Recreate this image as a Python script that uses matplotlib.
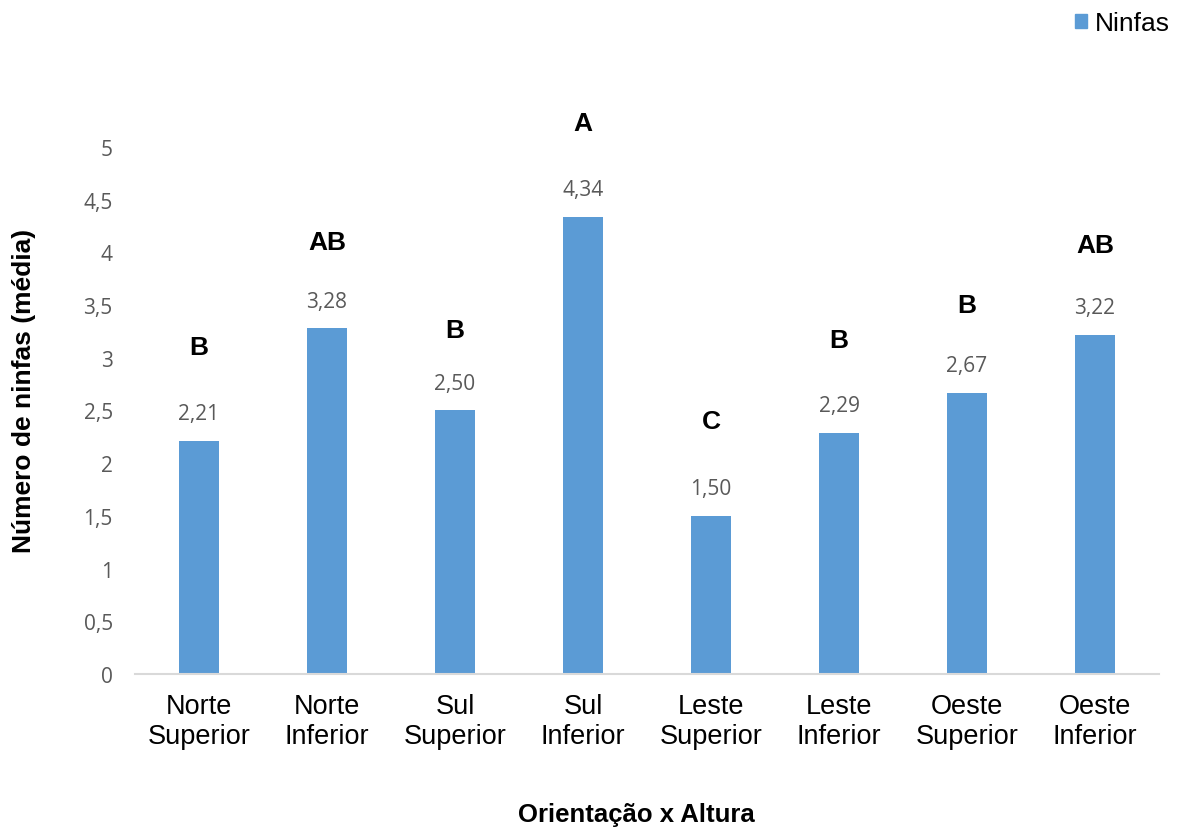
import matplotlib
matplotlib.use("Agg")
import matplotlib.pyplot as plt
from matplotlib.patches import Patch
import numpy as np

categorias = ["Norte\nSuperior", "Norte\nInferior", "Sul\nSuperior", "Sul\nInferior",
              "Leste\nSuperior", "Leste\nInferior", "Oeste\nSuperior", "Oeste\nInferior"]
medias = [2.21, 3.28, 2.50, 4.34, 1.50, 2.29, 2.67, 3.22]
letras = ["B", "AB", "B", "A", "C", "B", "B", "AB"]
yticks = [0, 0.5, 1, 1.5, 2, 2.5, 3, 3.5, 4, 4.5, 5]

# distância (pt) entre o topo da barra e a letra do teste
letra_offset = [68, 62, 58, 67, 68, 67, 63, 64.5]

AZUL = "#5b9bd5"
CINZA = "#595959"

fig = plt.figure(figsize=(11.81, 8.28), dpi=100)
ax = fig.add_axes([0.1143, 0.1848, 0.8671, 0.6365])

x = np.arange(len(categorias))
ax.bar(x, medias, width=0.31, color=AZUL, zorder=2)

ax.set_xlim(-0.5, len(categorias) - 0.5)
ax.set_ylim(0, 5)
ax.set_yticks(yticks)
ax.set_yticklabels([f"{v:g}".replace(".", ",") for v in yticks],
                   fontfamily="Open Sans", fontsize=15, color=CINZA)
ax.set_xticks(x)
ax.set_xticklabels(categorias, fontfamily="Liberation Sans", fontsize=19.5,
                   color="black", linespacing=1.2)
ax.tick_params(axis="y", length=0, pad=16)
ax.tick_params(axis="x", length=0, pad=14)

for s in ["top", "right", "left"]:
    ax.spines[s].set_visible(False)
ax.spines["bottom"].set_color("#d9d9d9")
ax.spines["bottom"].set_linewidth(1.5)

for xi, v, letra, off in zip(x, medias, letras, letra_offset):
    ax.annotate(f"{v:.2f}".replace(".", ","), (xi, v), xytext=(0, 19.5),
                textcoords="offset points", ha="center", va="center",
                fontfamily="Open Sans", fontsize=15, color=CINZA)
    ax.annotate(letra, (xi, v), xytext=(0, off), textcoords="offset points",
                ha="center", va="center", fontfamily="Liberation Sans",
                fontsize=19, fontweight="bold", color="black")

fig.text(24 / 1181, 1 - 391 / 828, "Número de ninfas (média)", rotation=90,
         ha="center", va="center", fontfamily="Liberation Sans",
         fontsize=19, fontweight="bold")
fig.text(636 / 1181, 1 - 815 / 828, "Orientação x Altura", ha="center", va="center",
         fontfamily="Liberation Sans", fontsize=18.5, fontweight="bold")

ax.legend(handles=[Patch(color=AZUL, label="Ninfas")], loc="center right",
          bbox_to_anchor=(1170 / 1181, 1 - 24 / 828), bbox_transform=fig.transFigure,
          frameon=False, borderpad=0, borderaxespad=0,
          prop={"family": "Liberation Sans", "size": 19},
          handlelength=0.45, handleheight=0.45, handletextpad=0.3)

fig.savefig("out.png", dpi=100)
